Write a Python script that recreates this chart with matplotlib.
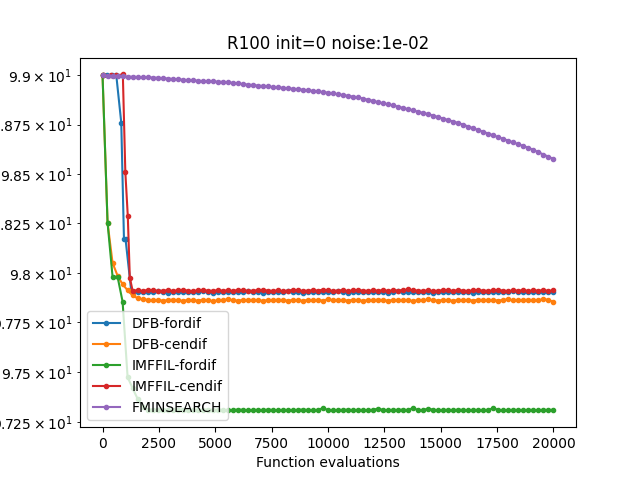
import numpy as np
import matplotlib
matplotlib.use("Agg")
import matplotlib.pyplot as plt

# evaluation grid at which the stalled runs were logged
evals = np.linspace(0, 20000, 91)

# DFB-fordif: early points logged separately, then on the grid from index 6
dfb_for_x0 = [0, 200, 400, 610, 830, 950, 1020, 1270]
dfb_for_y0 = [99.0, 99.0, 99.0, 99.0, 98.76, 98.17, 98.17, 97.91]
dfb_for_tail = [
    97.904, 97.902, 97.905, 97.901, 97.903, 97.906, 97.902, 97.900, 97.904, 97.903,
    97.901, 97.905, 97.903, 97.902, 97.906, 97.904, 97.900, 97.903, 97.905, 97.902,
    97.904, 97.901, 97.903, 97.906, 97.902, 97.904, 97.900, 97.903, 97.905, 97.901,
    97.903, 97.907, 97.902, 97.904, 97.900, 97.903, 97.905, 97.902, 97.904, 97.901,
    97.903, 97.906, 97.902, 97.900, 97.904, 97.903, 97.905, 97.901, 97.903, 97.902,
    97.904, 97.900, 97.903, 97.906, 97.902, 97.904, 97.901, 97.903, 97.905, 97.902,
    97.900, 97.904, 97.903, 97.901, 97.905, 97.902, 97.904, 97.903, 97.900, 97.904,
    97.902, 97.905, 97.901, 97.903, 97.904, 97.902, 97.906, 97.903, 97.901, 97.904,
    97.902, 97.903, 97.905, 97.902, 97.904]

dfb_cen = [
    99.000, 98.253, 98.050, 97.985, 97.942, 97.912, 97.886, 97.872, 97.866,
    97.864, 97.861, 97.863, 97.860, 97.862, 97.865, 97.861, 97.859, 97.863, 97.862,
    97.860, 97.864, 97.862, 97.858, 97.861, 97.863, 97.866, 97.862, 97.860, 97.863,
    97.861, 97.864, 97.862, 97.859, 97.863, 97.861, 97.865, 97.862, 97.860, 97.863,
    97.862, 97.859, 97.864, 97.861, 97.863, 97.860, 97.867, 97.862, 97.861, 97.863,
    97.860, 97.864, 97.862, 97.859, 97.863, 97.861, 97.865, 97.862, 97.860, 97.863,
    97.861, 97.864, 97.862, 97.858, 97.863, 97.861, 97.866, 97.862, 97.860, 97.863,
    97.862, 97.859, 97.864, 97.861, 97.863, 97.860, 97.865, 97.862, 97.861, 97.863,
    97.860, 97.864, 97.866, 97.861, 97.863, 97.862, 97.865, 97.861, 97.863, 97.866,
    97.864, 97.853]

imffil_for = [
    99.000, 98.253, 97.980, 97.980, 97.855, 97.476, 97.420, 97.367, 97.328,
    97.311, 97.313, 97.310, 97.312, 97.311, 97.309, 97.312, 97.313, 97.311, 97.310,
    97.312, 97.311, 97.313, 97.310, 97.311, 97.312, 97.309, 97.311, 97.313, 97.312,
    97.310, 97.311, 97.312, 97.310, 97.313, 97.311, 97.309, 97.312, 97.311, 97.310,
    97.312, 97.313, 97.311, 97.310, 97.312, 97.320, 97.311, 97.309, 97.312, 97.311,
    97.313, 97.310, 97.312, 97.311, 97.310, 97.312, 97.318, 97.311, 97.310, 97.312,
    97.311, 97.313, 97.310, 97.322, 97.309, 97.311, 97.318, 97.312, 97.310, 97.311,
    97.312, 97.310, 97.313, 97.311, 97.309, 97.312, 97.311, 97.310, 97.312, 97.320,
    97.311, 97.309, 97.310, 97.312, 97.311, 97.310, 97.312, 97.311, 97.310, 97.312,
    97.311, 97.312]

# IMFFIL-cendif: early points, then grid from index 6
imffil_cen_x0 = [0, 390, 610, 900, 1010, 1120, 1210]
imffil_cen_y0 = [99.0, 99.0, 99.0, 99.005, 98.51, 98.286, 97.975]
imffil_cen_tail = [
    97.910, 97.912, 97.909, 97.913, 97.911, 97.908, 97.910, 97.912, 97.909, 97.911,
    97.914, 97.910, 97.908, 97.911, 97.913, 97.910, 97.909, 97.912, 97.910, 97.911,
    97.909, 97.913, 97.911, 97.908, 97.910, 97.912, 97.914, 97.910, 97.909, 97.911,
    97.908, 97.910, 97.913, 97.911, 97.909, 97.910, 97.912, 97.910, 97.915, 97.911,
    97.909, 97.910, 97.912, 97.908, 97.911, 97.913, 97.910, 97.909, 97.911, 97.910,
    97.912, 97.909, 97.911, 97.910, 97.913, 97.916, 97.912, 97.910, 97.909, 97.911,
    97.908, 97.910, 97.912, 97.911, 97.909, 97.913, 97.910, 97.908, 97.911, 97.912,
    97.910, 97.909, 97.911, 97.913, 97.910, 97.908, 97.911, 97.910, 97.912, 97.909,
    97.911, 97.910, 97.912, 97.909, 97.911]

fminsearch = [
    99.000, 98.999, 98.998, 98.997, 98.996, 98.994, 98.993, 98.992, 98.991, 98.990,
    98.989, 98.988, 98.986, 98.984, 98.982, 98.980, 98.978, 98.976, 98.975, 98.973,
    98.971, 98.970, 98.969, 98.968, 98.967, 98.965, 98.962, 98.959, 98.956, 98.953,
    98.951, 98.948, 98.946, 98.944, 98.941, 98.939, 98.937, 98.934, 98.932, 98.930,
    98.927, 98.924, 98.921, 98.918, 98.915, 98.912, 98.908, 98.904, 98.900, 98.896,
    98.892, 98.888, 98.882, 98.876, 98.870, 98.864, 98.858, 98.853, 98.847, 98.841,
    98.834, 98.828, 98.822, 98.815, 98.809, 98.803, 98.795, 98.788, 98.780, 98.773,
    98.765, 98.758, 98.749, 98.740, 98.731, 98.722, 98.713, 98.704, 98.695, 98.686,
    98.677, 98.668, 98.659, 98.650, 98.641, 98.632, 98.621, 98.610, 98.598, 98.587,
    98.575]

fig, ax = plt.subplots()
ax.plot(dfb_for_x0 + list(evals[6:]), dfb_for_y0 + dfb_for_tail, '.-', label='DFB-fordif')
ax.plot(evals, dfb_cen, '.-', label='DFB-cendif')
ax.plot(evals, imffil_for, '.-', label='IMFFIL-fordif')
ax.plot(imffil_cen_x0 + list(evals[6:]), imffil_cen_y0 + imffil_cen_tail, '.-', label='IMFFIL-cendif')
ax.plot(evals, fminsearch, '.-', label='FMINSEARCH')
ax.set_yscale('log')
ax.set_title('R100 init=0 noise:1e-02')
ax.set_xlabel('Function evaluations')
ax.legend(loc='lower left')
plt.savefig('out.png')
